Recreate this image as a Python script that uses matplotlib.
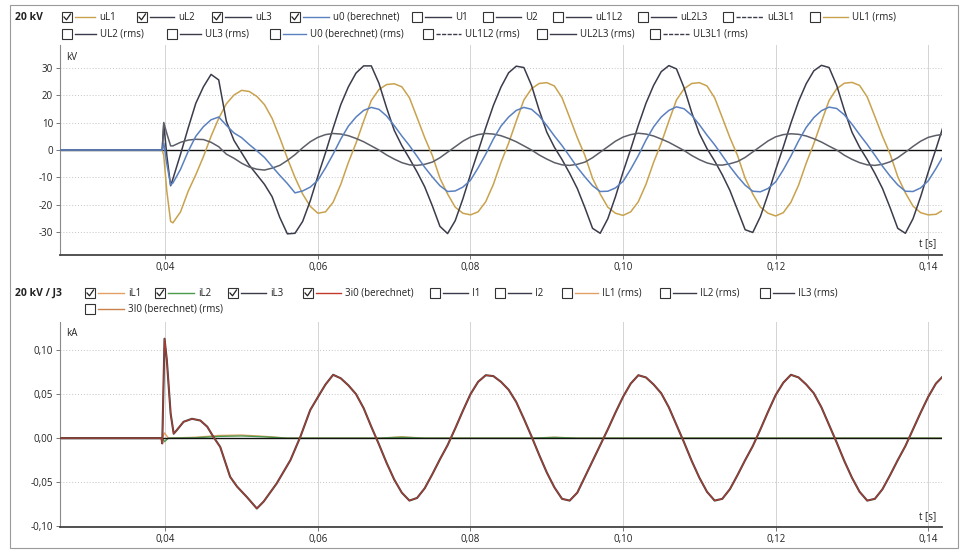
import matplotlib

matplotlib.use("Agg")
import matplotlib.pyplot as plt
import numpy as np
from matplotlib.lines import Line2D
from matplotlib.patches import Rectangle
from matplotlib.ticker import FuncFormatter, MultipleLocator

plt.rcParams["font.family"] = ["Open Sans", "DejaVu Sans"]

W, H = 972, 550

# --- voltages, 20 kV feeder (time in ms, values in kV) ---
t_u_ms = [26, 39.6, 39.8, 40.2, 40.7] + list(range(41, 143))

u_L1 = [0, 0, -2, -15, -26,
        -26.5, -22.5, -15, -9, -2.4, 5, 11.5, 16.8, 20, 21.7,
        21.3, 19.5, 16.5, 11.5, 4.5, -3, -10, -16, -20.5, -23,
        -22.5, -19, -12.5, -4.5, 2.5, 10.5, 18, 22, 23.8, 24.1,
        23, 19, 11.8, 4.5, -2, -10.3, -16, -20.8, -23, -23.6,
        -22.5, -18.8, -12.5, -4.5, 2.5, 10.5, 18.2, 22.3, 24.2, 24.5,
        23.3, 19, 11.8, 4.5, -2, -10.3, -16, -20.8, -23, -23.8,
        -22.5, -18.8, -12.5, -4.5, 2.5, 10.5, 18.2, 22.3, 24.2, 24.5,
        23.3, 19, 11.8, 4.5, -2, -10.3, -16, -20.8, -23, -24,
        -22.8, -19, -12.8, -4.8, 2.3, 10.3, 18, 22.3, 24.3, 24.6,
        23.5, 19.3, 12.2, 5, -1.5, -9.7, -15.6, -20.4, -22.8, -23.6,
        -23.4, -21.8]

u_L2 = [0, 0, 9.5, -2, -13,
        -10.5, -1.5, 8, 17, 23, 27.5, 25.5, 10.5, 3.5, -1,
        -5.5, -9, -12.5, -17, -24.5, -30.5, -30.3, -26, -18.5, -9.5,
        -1, 8, 16.5, 23, 28, 30.6, 30.6, 24.3, 15.4, 7.2,
        1.6, -3.1, -8, -13.4, -20.3, -27.8, -30.4, -25.7, -17.8, -8.9,
        -0.5, 8.1, 16.2, 22.9, 28.1, 30.5, 30, 23.5, 14.5, 6.5,
        1, -3.5, -8.5, -14, -21, -28.5, -30.3, -25, -17, -8,
        0.3, 9, 17, 23.5, 28.5, 30.7, 29.5, 22.6, 13.6, 6,
        0.5, -4, -9, -14.7, -21.8, -29, -30, -24.2, -16.1, -7.2,
        1.1, 9.8, 17.7, 24.1, 28.8, 30.8, 30, 23.5, 14.5, 6.5,
        1, -3.5, -8.5, -14, -21, -28.5, -30.3, -25, -17, -8,
        0.3, 9]

u_L3 = [0, 0, 10, 6, 1.5,
        1.5, 2.8, 3.6, 3.9, 3.8, 2.8, 1.2, -1.5, -3, -4.8,
        -6.2, -7, -7.3, -6.6, -5.6, -3.8, -1.7, 0.8, 3, 4.6,
        5.6, 6, 5.8, 5.2, 4.2, 3, 1.5, 0, -1.8, -3.3,
        -4.6, -5.4, -5.6, -5.2, -4.4, -2.8, -0.8, 1.2, 3.2, 4.7,
        5.6, 6, 5.8, 5.2, 4.2, 3, 1.5, 0, -1.8, -3.3,
        -4.6, -5.4, -5.6, -5.2, -4.4, -2.8, -0.8, 1.2, 3.2, 4.7,
        5.6, 6.1, 5.8, 5.1, 4, 2.8, 1.3, -0.2, -2, -3.5,
        -4.7, -5.4, -5.5, -5, -4.2, -2.7, -0.7, 1.3, 3.3, 4.8,
        5.6, 5.9, 5.7, 5.1, 4.1, 2.9, 1.4, 0, -1.9, -3.4,
        -4.6, -5.4, -5.6, -5.2, -4.3, -2.8, -0.8, 1.3, 3.2, 4.6,
        5.3, 5.7]

u_0 = [0, 0, 2.5, -5, -12.7,
       -12, -7, -0.5, 5, 8.5, 11, 12, 9, 6.2, 4.5,
       2, -0.3, -2.7, -6, -9.2, -12.2, -15.6, -14.9, -13.5, -11,
       -6.5, -1.5, 4, 8.7, 12, 14.4, 15.5, 14.8, 12.4, 8.9,
       5.1, 1.6, -2.3, -6.3, -9.8, -13, -15.1, -14.9, -13.5, -11,
       -6.5, -1.5, 4, 8.7, 12, 14.4, 15.5, 14.8, 12.4, 8.9,
       5.1, 1.6, -2.3, -6.3, -9.8, -13, -15.1, -15, -13.8, -11.4,
       -7, -2, 3.6, 8.4, 12, 14.4, 15.7, 15, 12.6, 9.2,
       5.4, 1.9, -2, -6, -9.6, -12.8, -15, -15.2, -14, -11.6,
       -7.2, -2.2, 3.3, 8.2, 11.8, 14.3, 15.6, 15.1, 12.8, 9.4,
       5.6, 2, -1.9, -5.9, -9.5, -12.7, -15, -15.1, -13.8, -11.2,
       -6.8, -2]

# --- currents, 20 kV / J3 (time in ms, values in kA) ---
t_i_ms = [26, 39.5, 39.6, 39.9, 40.2, 40.7, 41.1, 41.5, 42.4, 43.5, 44.6, 45.5,
          46.3, 47.2, 48.5, 49.4, 50.7, 52.0, 52.9, 54.6, 56.4, 57.7, 59.0, 60.3,
          61.0] + list(range(62, 143))

i_L3 = [0, 0, -0.006, 0.113, 0.089, 0.028, 0.005, 0.009, 0.0186, 0.022, 0.020, 0.013,
        0.0015, -0.010, -0.044, -0.055, -0.067, -0.080, -0.072, -0.0515, -0.025, 0.0015, 0.032, 0.051,
        0.061,
        0.072, 0.068, 0.060, 0.050, 0.034, 0.013, -0.007, -0.028, -0.047, -0.062,
        -0.071, -0.068, -0.057, -0.041, -0.024, -0.008, 0.011, 0.031, 0.050, 0.064,
        0.0715, 0.0705, 0.064, 0.055, 0.041, 0.022, 0.002, -0.019, -0.039, -0.056,
        -0.069, -0.071, -0.062, -0.044, -0.026, -0.008, 0.010, 0.029, 0.047, 0.062,
        0.0715, 0.069, 0.061, 0.051, 0.035, 0.015, -0.005, -0.026, -0.045, -0.061,
        -0.071, -0.069, -0.058, -0.042, -0.025, -0.009, 0.010, 0.030, 0.049, 0.063,
        0.072, 0.069, 0.061, 0.051, 0.035, 0.015, -0.005, -0.026, -0.045, -0.061,
        -0.071, -0.069, -0.058, -0.042, -0.025, -0.009, 0.010, 0.029, 0.047, 0.062,
        0.071]

# 3i0 (berechnet) lies on top of iL3 over the whole recording
i_3i0 = i_L3

t_i12_ms = [26, 39.6, 39.9, 40.4, 44, 47, 50, 53, 56, 68, 71, 74, 88, 91, 94, 142]
i_L1 = [0, 0, 0.006, 0, 0.001, 0.003, 0.0035, 0.002, 0, 0, 0.0015, 0, 0, 0.001, 0, 0]
i_L2 = [0, 0, -0.004, 0, 0.0005, 0.002, 0.0025, 0.0015, 0, 0, 0.001, 0, 0, 0.0008, 0, 0]

C_GOLD = "#c9a24e"
C_DARK = "#3a3c4c"
C_GRAY = "#5c5e68"
C_BLUE = "#5a80bf"
C_ORANGE = "#e3a066"
C_GREEN = "#4c9a4c"
C_RED = "#c23a2c"

# legend layout: (checkbox x, label x, row y, checked, colour, label, dashed)
legend_u = [
    (62, 99, 17, True, C_GOLD, "uL1", False), (137, 178, 17, True, C_DARK, "uL2", False),
    (212, 255, 17, True, C_DARK, "uL3", False), (290, 333, 17, True, C_BLUE, "u0 (berechnet)", False),
    (412, 455, 17, False, C_DARK, "U1", False), (483, 525, 17, False, C_DARK, "U2", False),
    (553, 595, 17, False, C_DARK, "uL1L2", False), (638, 680, 17, False, C_DARK, "uL2L3", False),
    (723, 767, 17, False, C_DARK, "uL3L1", True), (810, 852, 17, False, C_GOLD, "UL1 (rms)", False),
    (62, 100, 34, False, C_DARK, "UL2 (rms)", False), (167, 205, 34, False, C_DARK, "UL3 (rms)", False),
    (270, 310, 34, False, C_BLUE, "U0 (berechnet) (rms)", False),
    (423, 465, 34, False, C_DARK, "UL1L2 (rms)", True), (537, 580, 34, False, C_DARK, "UL2L3 (rms)", False),
    (650, 693, 34, False, C_DARK, "UL3L1 (rms)", True),
]
legend_i = [
    (85, 128, 293, True, C_ORANGE, "iL1", False), (155, 198, 293, True, C_GREEN, "iL2", False),
    (228, 270, 293, True, C_DARK, "iL3", False), (303, 345, 293, True, C_RED, "3i0 (berechnet)", False),
    (430, 472, 293, False, C_DARK, "I1", False), (495, 535, 293, False, C_DARK, "I2", False),
    (562, 602, 293, False, C_ORANGE, "IL1 (rms)", False), (660, 700, 293, False, C_DARK, "IL2 (rms)", False),
    (760, 798, 293, False, C_DARK, "IL3 (rms)", False),
    (85, 128, 309, False, "#c8814a", "3I0 (berechnet) (rms)", False),
]


def fx(x):
    return x / W


def fy(y):
    return 1 - y / H


def draw_legend(fig, entries):
    for bx, lx, by, checked, color, label, dashed in entries:
        fig.add_artist(Rectangle((fx(bx), fy(by + 5)), 10 / W, 10 / H, fill=False,
                                 ec="#333333", lw=0.8, transform=fig.transFigure))
        if checked:
            fig.add_artist(Line2D([fx(bx + 2), fx(bx + 4.5), fx(bx + 8.5)],
                                  [fy(by), fy(by + 2.8), fy(by - 3)],
                                  color="#222222", lw=0.9, transform=fig.transFigure))
        fig.add_artist(Line2D([fx(bx + 13), fx(lx - 4)], [fy(by), fy(by)], color=color,
                              lw=1.0, ls=(0, (3, 1)) if dashed else "-",
                              transform=fig.transFigure))
        fig.text(fx(lx), fy(by), label, fontsize=7, color="#222222",
                 ha="left", va="center")


def style_axes(ax, fmt):
    for side in ("top", "right"):
        ax.spines[side].set_visible(False)
    ax.spines["left"].set_color("#8a8a8a")
    ax.spines["left"].set_linewidth(0.8)
    ax.spines["bottom"].set_color("#444444")
    ax.spines["bottom"].set_linewidth(1.3)
    ax.set_xlim(0.0262, 0.1418)
    ax.xaxis.set_major_locator(MultipleLocator(0.02))
    ax.xaxis.set_major_formatter(FuncFormatter(lambda v, p: f"{v:.2f}".replace(".", ",")))
    ax.yaxis.set_major_formatter(FuncFormatter(fmt))
    ax.tick_params(labelsize=7, length=3, width=0.7, color="#777777", labelcolor="#222222", pad=2)
    ax.grid(axis="x", color="#d4d4d4", lw=0.7)
    ax.grid(axis="y", color="#c4c4c4", lw=0.7, ls=(0, (1, 2)))
    ax.set_axisbelow(True)
    ax.axhline(0, color="#111111", lw=1.0, zorder=2.5)


fig = plt.figure(figsize=(W / 100, H / 100), dpi=100)
fig.patch.set_facecolor("white")

ax_u = fig.add_axes([fx(60), fy(255), 882 / W, 210 / H])
ax_i = fig.add_axes([fx(60), fy(527), 882 / W, 205 / H])

t_u = np.array(t_u_ms) / 1000
ax_u.plot(t_u, u_L1, color=C_GOLD, lw=1.1, zorder=3)
ax_u.plot(t_u, u_L2, color=C_DARK, lw=1.1, zorder=3)
ax_u.plot(t_u, u_L3, color=C_GRAY, lw=1.1, zorder=3)
ax_u.plot(t_u, u_0, color=C_BLUE, lw=1.1, zorder=4)
style_axes(ax_u, lambda v, p: f"{v:.0f}")
ax_u.set_ylim(-38.2, 38.2)
ax_u.yaxis.set_major_locator(MultipleLocator(10))

t_i = np.array(t_i_ms) / 1000
t_i12 = np.array(t_i12_ms) / 1000
ax_i.plot(t_i12, i_L1, color=C_ORANGE, lw=1.0, zorder=2)
ax_i.plot(t_i12, i_L2, color=C_GREEN, lw=1.0, zorder=2)
ax_i.plot(t_i, i_L3, color="#444444", lw=1.5, zorder=3)
ax_i.plot(t_i, i_3i0, color=C_RED, lw=0.8, zorder=4, alpha=0.85)
style_axes(ax_i, lambda v, p: f"{v:.2f}".replace(".", ","))
ax_i.set_ylim(-0.101, 0.132)
ax_i.yaxis.set_major_locator(MultipleLocator(0.05))

# units and axis captions
fig.text(fx(66), fy(57), "kV", fontsize=7, color="#222222", ha="left", va="center")
fig.text(fx(936), fy(244), "t [s]", fontsize=7, color="#222222", ha="right", va="center")
fig.text(fx(66), fy(333), "kA", fontsize=7, color="#222222", ha="left", va="center")
fig.text(fx(936), fy(517), "t [s]", fontsize=7, color="#222222", ha="right", va="center")

# panel headers and channel legends
fig.text(fx(15), fy(17), "20 kV", fontsize=7.5, fontweight="bold", color="#222222", va="center")
fig.text(fx(15), fy(293), "20 kV / J3", fontsize=7.5, fontweight="bold", color="#222222", va="center")
draw_legend(fig, legend_u)
draw_legend(fig, legend_i)

# outer frame of the recorder window
fig.add_artist(Rectangle((fx(10), fy(548)), 948 / W, 543 / H, fill=False, ec="#9a9a9a",
                         lw=0.8, transform=fig.transFigure))

fig.savefig("out.png", dpi=100)
